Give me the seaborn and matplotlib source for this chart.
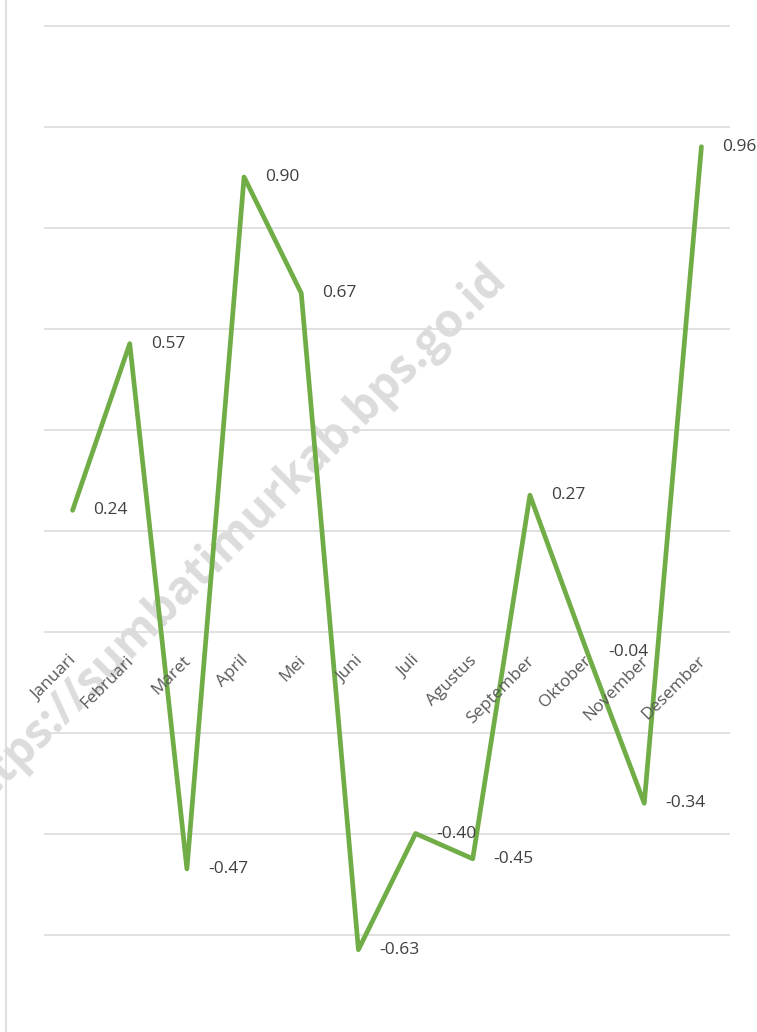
import matplotlib
matplotlib.use("Agg")
import matplotlib.pyplot as plt
import numpy as np
import pandas as pd
import seaborn as sns
from matplotlib.lines import Line2D

months = ["Januari", "Februari", "Maret", "April", "Mei", "Juni", "Juli",
          "Agustus", "September", "Oktober", "November", "Desember"]
values = [0.24, 0.57, -0.47, 0.90, 0.67, -0.63, -0.40,
          -0.45, 0.27, -0.04, -0.34, 0.96]
value_labels = ["0.24", "0.57", "-0.47", "0.90", "0.67", "-0.63", "-0.40",
                "-0.45", "0.27", "-0.04", "-0.34", "0.96"]
watermark = "https://sumbatimurkab.bps.go.id"

sns.set_theme(style="white")
plt.rcParams["font.family"] = ["Open Sans", "DejaVu Sans"]

df = pd.DataFrame({"idx": range(len(months)), "bulan": months, "nilai": values})

W, H = 757, 1032
fig = plt.figure(figsize=(W / 100, H / 100), dpi=100)
ax = fig.add_axes([44 / W, 0, 686 / W, 1])

sns.lineplot(data=df, x="idx", y="nilai", ax=ax, color="#70AD47",
             linewidth=3.4, zorder=3)

ax.set_xlim(-0.5, 11.5)
ax.set_ylim(-0.793, 1.2505)
ax.set_yticks(np.round(np.arange(-0.6, 1.21, 0.2), 2))
ax.yaxis.grid(True, color="#d9d9d9", linewidth=1.1)
ax.xaxis.grid(False)
ax.set_yticklabels([])
ax.set_xticks([])
ax.tick_params(length=0)
ax.set_xlabel("")
ax.set_ylabel("")
for s in ax.spines.values():
    s.set_visible(False)

# category labels sit just below the zero line
for i, m in enumerate(df["bulan"]):
    ax.annotate(m, xy=(i, 0), xytext=(-4, -21), textcoords="offset pixels",
                ha="right", va="top", rotation=45, rotation_mode="anchor",
                fontsize=12.3, color="#595959", zorder=4)

# data labels to the right of each point
for i, (v, lab) in enumerate(zip(df["nilai"], value_labels)):
    ax.annotate(lab, xy=(i, v), xytext=(21, 0), textcoords="offset pixels",
                ha="left", va="center", fontsize=12.5, color="#404040", zorder=5)

# watermark (runs off the left edge as in the original)
ax.text(230 / W, 1 - 540 / H, watermark, transform=fig.transFigure,
        rotation=45, ha="center", va="center", fontsize=33, fontweight="bold",
        color="#dcdcdc", zorder=1, clip_on=False)

# chart border on the left
fig.add_artist(Line2D([6 / W, 6 / W], [0, 1], color="#d9d9d9", linewidth=1.2))

fig.savefig("out.png", dpi=100)
